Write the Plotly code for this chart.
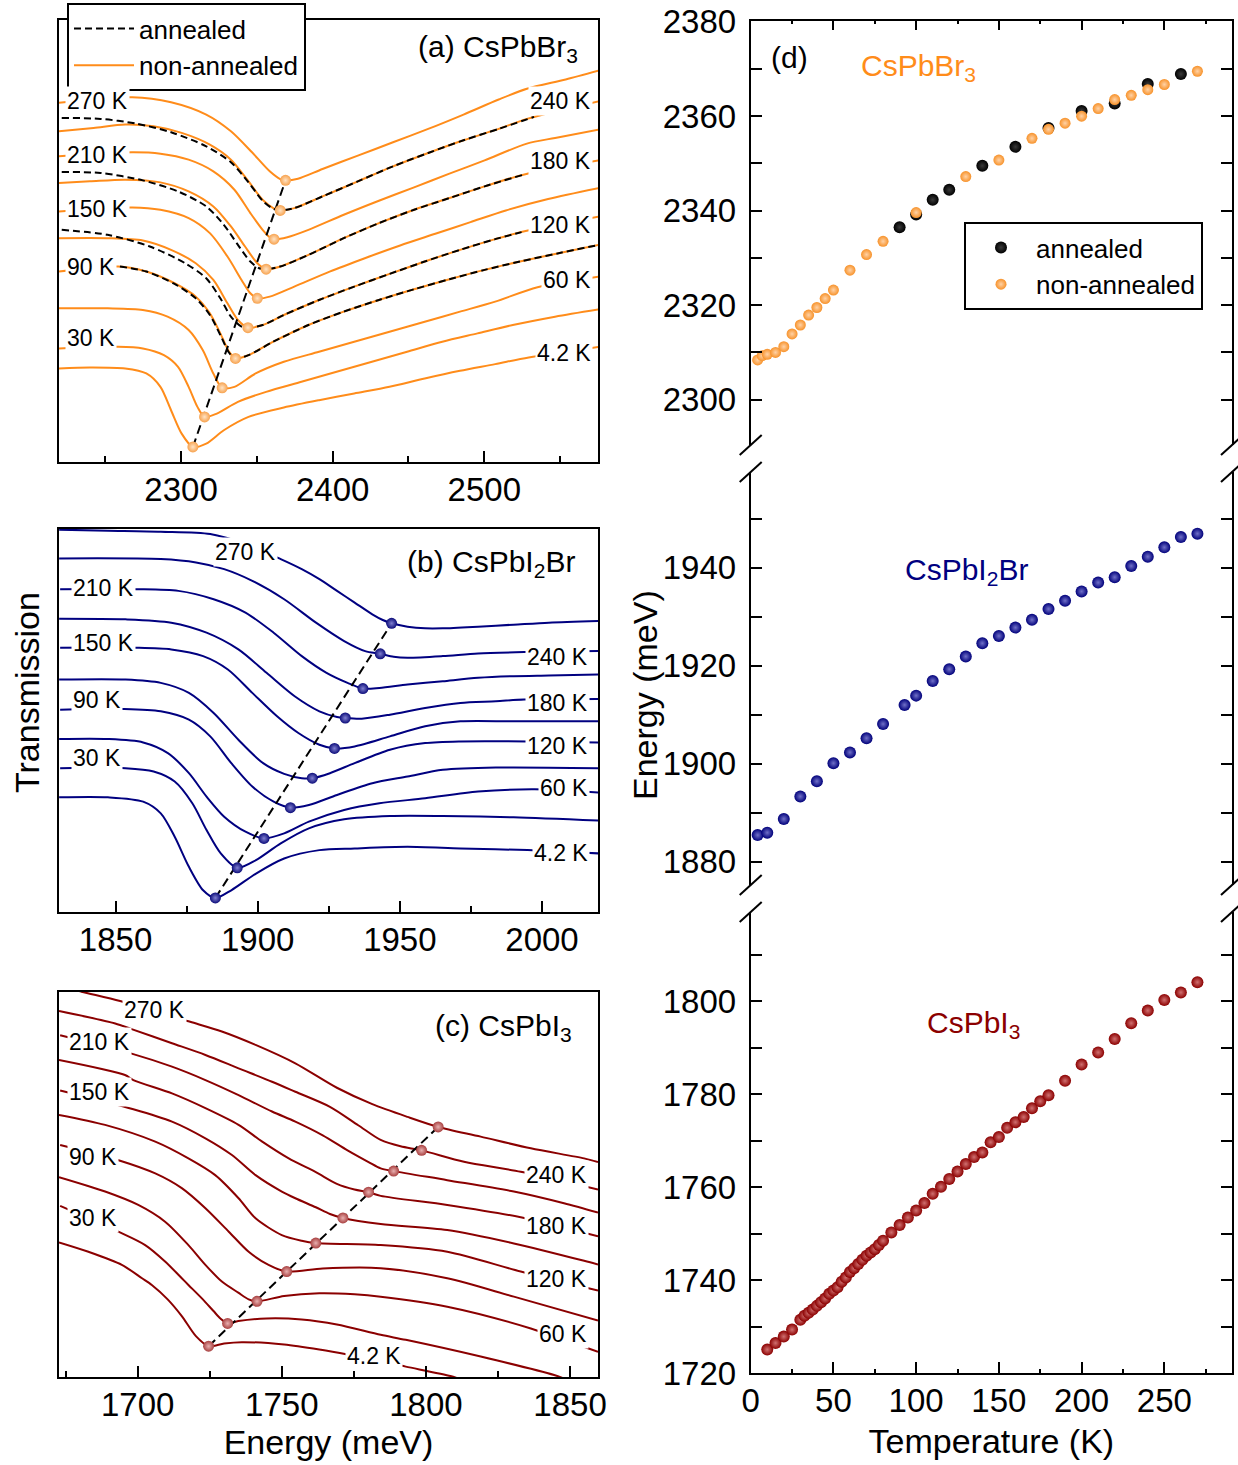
import plotly.graph_objects as go

FONT = "Liberation Sans, Arial, sans-serif"
W, H = 1238, 1465

# ---------------- Panel (a) CsPbBr3 : energy (meV) / transmission (arb. u., offset) ----------------
a_E_270 = [2219.5, 2267.8, 2293.4, 2316.6, 2332.9, 2346.8, 2358.5, 2365.4, 2368.9, 2377.1, 2393.3, 2416.6, 2439.8, 2463.0, 2486.3, 2509.5, 2528.1, 2553.7, 2575.8]
a_T_270 = [1075, 1092, 1077, 1040, 990, 927, 870, 847, 843, 848, 877, 917, 957, 997, 1040, 1085, 1117, 1145, 1172]
a_E_240 = [2219.5, 2242.3, 2263.2, 2281.8, 2300.4, 2319.0, 2332.9, 2344.5, 2353.8, 2360.8, 2365.4, 2374.7, 2393.3, 2416.6, 2439.8, 2463.0, 2486.3, 2509.5, 2528.1, 2575.8]
a_T_240 = [990, 1000, 1010, 1005, 985, 950, 905, 840, 785, 760, 753, 760, 795, 840, 885, 925, 963, 997, 1027, 1080]
a_E_210 = [2219.5, 2267.8, 2286.4, 2305.0, 2321.3, 2335.2, 2345.7, 2353.8, 2358.5, 2361.3, 2370.1, 2384.0, 2407.3, 2430.5, 2453.7, 2477.0, 2500.2, 2528.1, 2546.7, 2575.8]
a_T_210 = [915, 927, 923, 905, 870, 815, 745, 695, 673, 667, 673, 695, 740, 782, 822, 863, 903, 953, 970, 995]
a_E_180 = [2219.5, 2239.9, 2263.2, 2286.4, 2305.0, 2321.3, 2332.9, 2342.2, 2350.3, 2356.1, 2365.4, 2384.0, 2407.3, 2430.5, 2453.7, 2477.0, 2500.2, 2525.8, 2575.8]
a_T_180 = [835, 840, 845, 837, 810, 765, 705, 645, 595, 577, 585, 620, 670, 715, 755, 790, 825, 860, 903]
a_E_150 = [2219.5, 2267.8, 2286.4, 2305.0, 2319.0, 2330.6, 2339.9, 2345.7, 2350.3, 2358.5, 2374.7, 2398.0, 2421.2, 2444.5, 2467.7, 2490.9, 2514.2, 2542.1, 2575.8]
a_T_150 = [750, 762, 755, 730, 685, 615, 545, 505, 490, 495, 525, 570, 610, 648, 683, 718, 753, 787, 820]
a_E_120 = [2219.5, 2251.6, 2274.8, 2293.4, 2309.7, 2321.3, 2330.6, 2337.5, 2344.1, 2353.8, 2367.8, 2391.0, 2414.2, 2437.5, 2460.7, 2484.0, 2507.2, 2525.8, 2575.8]
a_T_120 = [670, 670, 663, 635, 595, 545, 475, 425, 402, 410, 440, 485, 525, 563, 600, 635, 667, 690, 735]
a_E_90 = [2219.5, 2258.5, 2277.1, 2295.7, 2309.7, 2319.0, 2325.9, 2331.7, 2335.9, 2344.5, 2360.8, 2384.0, 2407.3, 2430.5, 2453.7, 2477.0, 2500.2, 2523.5, 2549.0, 2575.8]
a_T_90 = [570, 585, 570, 535, 495, 445, 385, 330, 310, 320, 360, 410, 450, 485, 517, 547, 575, 600, 625, 650]
a_E_60 = [2219.5, 2251.6, 2274.8, 2291.1, 2305.0, 2314.3, 2321.3, 2327.1, 2335.2, 2349.2, 2367.8, 2391.0, 2414.2, 2437.5, 2460.7, 2484.0, 2507.2, 2535.1, 2575.8]
a_T_60 = [460, 460, 455, 435, 395, 335, 265, 222, 225, 265, 300, 330, 360, 390, 420, 450, 480, 523, 555]
a_E_30 = [2219.5, 2258.5, 2274.8, 2288.7, 2298.0, 2305.0, 2310.8, 2315.5, 2323.6, 2337.5, 2356.1, 2379.4, 2402.6, 2425.9, 2449.1, 2472.3, 2495.5, 2518.8, 2546.7, 2575.8]
a_T_30 = [340, 345, 340, 320, 285, 225, 165, 135, 145, 180, 210, 240, 270, 300, 330, 360, 385, 410, 435, 457]
a_E_4 = [2219.5, 2239.9, 2263.2, 2277.1, 2286.4, 2293.4, 2300.4, 2307.8, 2316.6, 2328.2, 2344.5, 2367.8, 2391.0, 2414.2, 2437.5, 2460.7, 2484.0, 2507.2, 2529.3, 2575.8]
a_T_4 = [280, 283, 280, 265, 225, 155, 85, 45, 55, 95, 135, 163, 185, 205, 225, 250, 273, 293, 313, 345]

# annealed spectra (dashed)
ann_E_240 = [2221.3, 2246.9, 2270.2, 2293.4, 2316.6, 2332.9, 2344.5, 2353.8, 2360.8, 2365.4, 2374.7, 2393.3, 2416.6, 2439.8, 2463.0, 2486.3, 2509.5, 2532.8]
ann_T_240 = [1030, 1027, 1013, 987, 945, 897, 837, 782, 758, 753, 760, 795, 840, 885, 925, 963, 997, 1033]
ann_E_180 = [2221.3, 2246.9, 2274.8, 2298.0, 2316.6, 2328.2, 2337.5, 2345.7, 2351.5, 2356.1, 2365.4, 2384.0, 2407.3, 2430.5, 2453.7, 2477.0, 2500.2, 2525.8]
ann_T_180 = [868, 865, 843, 810, 765, 710, 650, 600, 580, 577, 585, 620, 670, 715, 755, 790, 825, 860]
ann_E_120 = [2221.3, 2251.6, 2279.4, 2302.7, 2316.6, 2325.9, 2332.9, 2339.9, 2344.1, 2353.8, 2367.8, 2391.0, 2414.2, 2437.5, 2460.7, 2484.0, 2507.2, 2524.6]
ann_T_120 = [695, 680, 645, 595, 550, 490, 435, 405, 402, 410, 440, 485, 525, 563, 600, 635, 667, 688]
ann_E_90 = [2259.7, 2277.1, 2295.7, 2309.7, 2319.0, 2325.9, 2331.7, 2335.9, 2344.5, 2360.8, 2384.0, 2407.3, 2430.5, 2453.7, 2477.0, 2500.2, 2523.5, 2549.0, 2575.8]
ann_T_90 = [585, 570, 533, 490, 440, 380, 327, 310, 320, 360, 410, 450, 485, 517, 547, 575, 600, 625, 650]

a_dot_E = [2307.8, 2315.5, 2327.1, 2335.9, 2344.1, 2350.3, 2356.1, 2361.3, 2365.4, 2368.9]
a_dot_T = [45, 135, 222, 310, 402, 490, 577, 667, 753, 843]

# ---------------- Panel (b) CsPbI2Br ----------------
b_E_270 = [1830.15, 1847.3, 1865.9, 1883.3, 1895.7, 1908.1, 1915.5, 1921.7, 1927.9, 1934.1, 1940.3, 1944.0, 1947.1, 1952.7, 1958.9, 1965.1, 1977.5, 1990.0, 2002.4, 2020.3]
b_T_270 = [1143, 1140, 1137, 1130, 1100, 1055, 1025, 995, 960, 925, 890, 873, 863, 853, 848, 848, 853, 859, 865, 870]
b_E_240 = [1830.15, 1865.9, 1878.3, 1888.2, 1898.1, 1909.3, 1920.5, 1930.4, 1937.8, 1943.1, 1947.8, 1952.7, 1965.1, 1977.5, 1993.7, 2020.3]
b_T_240 = [1057, 1055, 1045, 1025, 990, 935, 865, 810, 780, 772, 763, 760, 765, 773, 777, 780]
b_E_210 = [1830.5, 1857.2, 1872.1, 1884.5, 1895.7, 1905.6, 1915.5, 1924.2, 1931.6, 1937.0, 1942.8, 1952.7, 1965.1, 1977.5, 1990.0, 2002.4, 2020.3]
b_T_210 = [965, 965, 960, 935, 895, 835, 765, 715, 685, 668, 670, 680, 690, 700, 705, 707, 710]
b_E_180 = [1830.15, 1853.5, 1869.6, 1882.0, 1893.2, 1903.1, 1913.0, 1921.7, 1927.9, 1930.8, 1936.6, 1946.5, 1958.9, 1971.3, 1983.8, 1993.7, 2020.3]
b_T_180 = [877, 875, 865, 835, 785, 715, 645, 600, 583, 580, 578, 590, 610, 625, 630, 635, 637]
b_E_150 = [1830.5, 1857.2, 1869.6, 1880.8, 1889.5, 1898.1, 1906.8, 1914.3, 1921.7, 1927.0, 1934.1, 1946.5, 1958.9, 1971.3, 1990.0, 2020.3]
b_T_150 = [790, 790, 785, 765, 725, 655, 585, 535, 500, 489, 495, 525, 555, 570, 570, 570]
b_E_120 = [1830.15, 1853.5, 1865.9, 1875.8, 1884.5, 1893.2, 1901.9, 1909.3, 1915.5, 1919.2, 1925.4, 1934.1, 1946.5, 1958.9, 1971.3, 1994.9, 2020.3]
b_T_120 = [695, 695, 685, 655, 595, 515, 445, 413, 400, 400, 415, 445, 485, 505, 510, 510, 507]
b_E_90 = [1830.5, 1852.9, 1865.9, 1875.8, 1883.3, 1890.7, 1898.1, 1905.6, 1911.5, 1918.0, 1927.9, 1940.3, 1952.7, 1965.1, 1983.8, 2020.3]
b_T_90 = [605, 607, 600, 575, 525, 445, 375, 330, 312, 320, 350, 385, 405, 425, 432, 430]
b_E_60 = [1830.15, 1847.3, 1859.7, 1868.4, 1875.8, 1882.0, 1888.2, 1895.7, 1902.2, 1909.3, 1918.0, 1930.4, 1942.8, 1958.9, 1977.5, 1997.4, 2020.3]
b_T_60 = [517, 517, 507, 475, 415, 345, 285, 240, 220, 235, 270, 305, 325, 340, 360, 367, 357]
b_E_30 = [1830.5, 1853.5, 1863.4, 1870.8, 1877.0, 1882.0, 1887.0, 1892.8, 1899.4, 1908.1, 1918.0, 1930.4, 1946.5, 1965.1, 1990.0, 2020.3]
b_T_30 = [430, 430, 420, 390, 325, 245, 175, 132, 155, 205, 250, 277, 287, 287, 283, 273]
b_E_4 = [1830.15, 1847.3, 1859.7, 1865.9, 1870.8, 1875.8, 1880.8, 1885.1, 1890.7, 1899.4, 1909.3, 1921.7, 1934.1, 1952.7, 1971.3, 1994.9, 2020.3]
b_T_4 = [343, 343, 330, 295, 225, 135, 65, 42, 65, 115, 160, 185, 190, 195, 190, 185, 175]

b_dot_E = [1885.1, 1892.8, 1902.2, 1911.5, 1919.2, 1927.0, 1930.8, 1937.0, 1943.1, 1947.1]
b_dot_T = [42, 132, 220, 312, 400, 489, 580, 668, 772, 863]

# ---------------- Panel (c) CsPbI3 ----------------
c_E_270 = [1672.7, 1680.5, 1693.9, 1718.2, 1729.2, 1740.9, 1754.7, 1769.1, 1781.4, 1793.6, 1804.25, 1819.0, 1836.4, 1854.9, 1859.7]
c_T_270 = [1169, 1151, 1123, 1061, 1032, 992, 937, 864, 815, 777, 747, 718, 683, 653, 642]
c_E_240 = [1672.7, 1692.2, 1697.9, 1711.9, 1723.5, 1735.0, 1746.6, 1754.7, 1766.7, 1776.5, 1784.3, 1791.2, 1798.5, 1813.2, 1832.9, 1859.7]
c_T_240 = [1093, 1056, 1039, 997, 962, 922, 882, 852, 807, 752, 708, 689, 677, 643, 613, 560]
c_E_210 = [1673.1, 1697.9, 1711.9, 1723.5, 1735.0, 1746.6, 1754.7, 1764.2, 1772.8, 1780.1, 1784.3, 1788.8, 1807.4, 1830.5, 1847.9, 1859.7]
c_T_210 = [1021, 966, 927, 887, 842, 793, 763, 722, 677, 642, 623, 615, 588, 554, 519, 491]
c_E_180 = [1672.7, 1695.6, 1698.5, 1711.9, 1723.5, 1735.0, 1743.2, 1752.4, 1761.8, 1769.1, 1775.2, 1780.1, 1784.3, 1807.4, 1832.9, 1859.7]
c_T_180 = [947, 902, 887, 847, 803, 753, 703, 653, 612, 577, 560, 552, 541, 514, 477, 420]
c_E_150 = [1673.1, 1698.5, 1711.9, 1723.5, 1732.7, 1740.9, 1750.0, 1754.7, 1761.8, 1766.7, 1771.2, 1784.3, 1807.4, 1830.5, 1854.9, 1859.7]
c_T_150 = [856, 800, 763, 713, 663, 603, 554, 534, 507, 487, 475, 457, 439, 399, 347, 336]
c_E_120 = [1672.7, 1688.7, 1706.1, 1717.6, 1726.9, 1735.0, 1740.9, 1750.0, 1756.9, 1761.8, 1784.3, 1807.4, 1832.9, 1859.7]
c_T_120 = [783, 753, 703, 653, 603, 534, 474, 424, 407, 400, 394, 374, 315, 258]
c_E_90 = [1673.1, 1693.9, 1706.1, 1715.3, 1723.5, 1731.6, 1738.5, 1745.4, 1751.7, 1764.2, 1784.3, 1807.4, 1830.5, 1859.7]
c_T_90 = [693, 646, 608, 564, 504, 434, 374, 335, 315, 324, 325, 295, 240, 169]
c_E_60 = [1672.7, 1688.7, 1700.2, 1709.5, 1717.6, 1723.5, 1729.2, 1734.9, 1738.5, 1741.4, 1750.8, 1763.0, 1775.2, 1784.3, 1807.4, 1836.4, 1859.7]
c_T_60 = [597, 554, 514, 464, 394, 335, 285, 252, 232, 226, 242, 250, 247, 240, 210, 145, 75]
c_E_30 = [1673.1, 1693.3, 1702.6, 1709.5, 1715.3, 1717.6, 1722.6, 1726.3, 1728.8, 1731.2, 1734.9, 1744.7, 1756.9, 1769.1, 1784.3, 1793.0, 1819.0, 1844.5, 1847.4]
c_T_30 = [511, 434, 394, 345, 295, 275, 232, 197, 174, 160, 167, 175, 172, 157, 126, 111, 61, 6, -3]
c_E_4 = [1672.7, 1682.9, 1694.5, 1701.5, 1704.9, 1710.4, 1715.3, 1720.2, 1724.6, 1730.0, 1736.1, 1750.8, 1763.0, 1772.8, 1793.0, 1808.5, 1810.7]
c_T_4 = [402, 374, 335, 295, 275, 232, 182, 122, 92, 100, 104, 97, 82, 67, 31, 3, -3]

c_dot_E = [1724.6, 1731.2, 1741.4, 1751.7, 1761.8, 1771.2, 1780.1, 1788.8, 1798.5, 1804.25]
c_dot_T = [92, 160, 226, 315, 400, 475, 552, 615, 677, 747]

# ---------------- Panel (d) exciton energy vs temperature ----------------
d_T_br_non = [4.2, 7, 10, 15, 20, 25, 30, 35, 40, 45, 50, 60, 70, 80, 100, 130, 150, 170, 180, 190, 200, 210, 220, 230, 240, 250, 270]
d_E_br_non = [2308.4, 2309.3, 2309.6, 2310.0, 2311.2, 2313.9, 2315.8, 2317.9, 2319.5, 2321.4, 2323.2, 2327.4, 2330.7, 2333.5, 2339.6, 2347.2, 2350.7, 2355.3, 2357.2, 2358.5, 2360.0, 2361.6, 2363.5, 2364.4, 2365.6, 2366.7, 2369.5]
d_T_br_ann = [90, 100, 110, 120, 140, 160, 180, 200, 220, 240, 260]
d_E_br_ann = [2336.5, 2339.2, 2342.3, 2344.4, 2349.5, 2353.5, 2357.5, 2361.1, 2362.7, 2366.8, 2368.9]
d_T_i2br = [4.2, 10, 20, 30, 40, 50, 60, 70, 80, 93, 100, 110, 120, 130, 140, 150, 160, 170, 180, 190, 200, 210, 220, 230, 240, 250, 260, 270]
d_E_i2br = [1885.4, 1885.9, 1888.7, 1893.3, 1896.4, 1900.1, 1902.3, 1905.2, 1908.1, 1912.0, 1913.9, 1916.9, 1919.3, 1921.9, 1924.6, 1926.1, 1927.8, 1929.4, 1931.6, 1933.3, 1935.2, 1937.0, 1938.1, 1940.4, 1942.3, 1944.2, 1946.3, 1947.0]
d_T_i3 = [10, 15, 20, 25, 30, 32.5, 35, 37.5, 40, 42.5, 45, 47.5, 50, 52.5, 55, 57.5, 60, 62.5, 65, 67.5, 70, 72.5, 75, 77.5, 80,
          85, 90, 95, 100, 105, 110, 115, 120, 125, 130, 135, 140, 145, 150, 155, 160, 165, 170, 175, 180,
          190, 200, 210, 220, 230, 240, 250, 260, 270]
d_E_i3 = [1725.1, 1726.5, 1727.9, 1729.4, 1731.5, 1732.4, 1733.0, 1733.7, 1734.5, 1735.3, 1736.1, 1737.1, 1737.8, 1738.5, 1739.7, 1740.6, 1741.8, 1742.6, 1743.5, 1744.4, 1745.3, 1746.0, 1746.7, 1747.6, 1748.5,
          1750.3, 1751.9, 1753.5, 1755.0, 1756.6, 1758.6, 1760.1, 1761.8, 1763.4, 1765.0, 1766.5, 1767.5, 1769.7, 1770.8, 1772.8, 1774.0, 1775.1, 1777.0, 1778.5, 1779.8,
          1782.9, 1786.4, 1789.0, 1791.9, 1795.3, 1798.0, 1800.3, 1801.9, 1804.1]

ORANGE = "#FF8C1A"
NAVY = "#000080"
DARKRED = "#8B0000"

fig = go.Figure()


def curves(pairs, color, xa, ya, dash=None, name=None, legend=None, rank=None):
    for i, (ex, tx) in enumerate(pairs):
        fig.add_trace(go.Scatter(
            x=ex, y=tx, mode="lines", xaxis=xa, yaxis=ya,
            line=dict(color=color, width=2, shape="spline", smoothing=0.8, dash=dash),
            name=name, showlegend=(name is not None and i == 0),
            legend=legend or "legend", legendrank=rank or 1000, hoverinfo="skip"))


def guide(ex, tx, xa, ya):
    fig.add_trace(go.Scatter(x=[ex[0], ex[-1]], y=[tx[0], tx[-1]], mode="lines", xaxis=xa, yaxis=ya,
                             line=dict(color="black", width=2, dash="9px,5px"), showlegend=False, hoverinfo="skip"))


def dots(ex, tx, xa, ya, color, glow, size=11, name=None, legend=None, rank=None):
    fig.add_trace(go.Scatter(x=ex, y=tx, mode="markers", xaxis=xa, yaxis=ya,
                             marker=dict(size=size, color=color, gradient=dict(type="radial", color=glow), line=dict(width=0)),
                             name=name, showlegend=name is not None, legend=legend or "legend",
                             legendrank=rank or 1000, hoverinfo="skip"))


# panel a
curves([(a_E_4, a_T_4), (a_E_30, a_T_30), (a_E_60, a_T_60), (a_E_90, a_T_90), (a_E_120, a_T_120),
        (a_E_150, a_T_150), (a_E_180, a_T_180), (a_E_210, a_T_210), (a_E_240, a_T_240), (a_E_270, a_T_270)],
       ORANGE, "x", "y", name="non-annealed", legend="legend2", rank=2)
curves([(ann_E_240, ann_T_240), (ann_E_180, ann_T_180), (ann_E_120, ann_T_120), (ann_E_90, ann_T_90)],
       "black", "x", "y", dash="7px,4px", name="annealed", legend="legend2", rank=1)
guide(a_dot_E, a_dot_T, "x", "y")
dots(a_dot_E, a_dot_T, "x", "y", "#F7A24E", "#FFE3C4")

# panel b
curves([(b_E_4, b_T_4), (b_E_30, b_T_30), (b_E_60, b_T_60), (b_E_90, b_T_90), (b_E_120, b_T_120),
        (b_E_150, b_T_150), (b_E_180, b_T_180), (b_E_210, b_T_210), (b_E_240, b_T_240), (b_E_270, b_T_270)],
       NAVY, "x2", "y2")
guide(b_dot_E, b_dot_T, "x2", "y2")
dots(b_dot_E, b_dot_T, "x2", "y2", "#0C0C7A", "#8080D0")

# panel c
curves([(c_E_4, c_T_4), (c_E_30, c_T_30), (c_E_60, c_T_60), (c_E_90, c_T_90), (c_E_120, c_T_120),
        (c_E_150, c_T_150), (c_E_180, c_T_180), (c_E_210, c_T_210), (c_E_240, c_T_240), (c_E_270, c_T_270)],
       DARKRED, "x3", "y3")
guide(c_dot_E, c_dot_T, "x3", "y3")
dots(c_dot_E, c_dot_T, "x3", "y3", "#A84040", "#E8B0B0")

# panel d
dots(d_T_br_ann, d_E_br_ann, "x5", "y4", "#000000", "#3A3A3A", size=12, name="annealed", rank=1)
dots(d_T_br_non, d_E_br_non, "x5", "y4", "#F7922A", "#FFD2A6", size=11, name="non-annealed", rank=2)
dots(d_T_i2br, d_E_i2br, "x6", "y5", "#00007A", "#7070C8", size=12)
dots(d_T_i3, d_E_i3, "x4", "y6", "#8B0000", "#D07070", size=12)


def px_x(p):
    return p / W


def px_y(p):
    return 1 - p / H


TICKFONT = dict(family=FONT, size=33, color="black")
box_x = dict(showline=True, linewidth=2, linecolor="black", mirror=True, ticks="inside", ticklen=11,
             tickwidth=2, tickcolor="black", showgrid=False, zeroline=False, tickfont=TICKFONT,
             ticklabelstandoff=-3, automargin=False)
box_y = dict(showline=True, linewidth=2, linecolor="black", mirror=True, ticks="", showticklabels=False,
             showgrid=False, zeroline=False, automargin=False)
minor_ab = dict(ticklen=6, tickwidth=2, tickcolor="black", ticks="inside", showgrid=False)

left_dom = [px_x(59), px_x(598)]
d_dom = [px_x(750.7), px_x(1232)]

layout = dict(
    template="none",
    width=W, height=H, margin=dict(l=0, r=0, t=0, b=0, pad=0), paper_bgcolor="white", plot_bgcolor="white",
    font=dict(family=FONT, color="black"),
    xaxis=dict(box_x, domain=left_dom, anchor="y", range=[2219.5, 2575], dtick=100, tick0=2300,
               minor=dict(minor_ab, dtick=50, tick0=2250)),
    yaxis=dict(box_y, domain=[px_y(462), px_y(20)], anchor="x", range=[0, 1323]),
    xaxis2=dict(box_x, domain=left_dom, anchor="y2", range=[1830.1, 2019.7], dtick=50, tick0=1850,
                minor=dict(minor_ab, dtick=25, tick0=1825)),
    yaxis2=dict(box_y, domain=[px_y(912), px_y(529)], anchor="x2", range=[0, 1145]),
    xaxis3=dict(box_x, domain=left_dom, anchor="y3", range=[1672.7, 1859.7], dtick=50, tick0=1700,
                minor=dict(minor_ab, dtick=25, tick0=1675),
                title=dict(text="Energy (meV)", font=dict(family=FONT, size=34, color="black"), standoff=8)),
    yaxis3=dict(box_y, domain=[px_y(1377), px_y(992)], anchor="x3", range=[0, 1150]),
    # panel d: bottom (CsPbI3)
    xaxis4=dict(domain=d_dom, anchor="y6", range=[0, 290.9], dtick=50, tick0=0, showline=True, linewidth=2,
                linecolor="black", ticks="inside", ticklen=11, tickwidth=2, tickcolor="black",
                minor=dict(dtick=25, ticklen=4, tickwidth=2, tickcolor="black", ticks="inside", showgrid=False),
                showgrid=False, zeroline=False, tickfont=TICKFONT, ticklabelstandoff=-3, automargin=False,
                title=dict(text="Temperature (K)", font=dict(family=FONT, size=34, color="black"), standoff=11)),
    # panel d: top (CsPbBr3)
    xaxis5=dict(domain=d_dom, anchor="y4", side="top", range=[0, 290.9], dtick=50, tick0=0, showline=True,
                linewidth=2, linecolor="black", ticks="inside", ticklen=9, tickwidth=2, tickcolor="black",
                minor=dict(dtick=25, ticklen=3, tickwidth=2, tickcolor="black", ticks="inside", showgrid=False),
                showticklabels=False, showgrid=False, zeroline=False, automargin=False),
    # panel d: middle (CsPbI2Br)
    xaxis6=dict(domain=d_dom, anchor="y5", range=[0, 290.9], showline=False, ticks="", showticklabels=False,
                showgrid=False, zeroline=False, automargin=False),
)
for key, dom, rng, t0, anc in [("yaxis4", [px_y(445), px_y(20.7)], [2290.4, 2380.2], 2300, "x5"),
                               ("yaxis5", [px_y(885), px_y(472)], [1875.2, 1959.6], 1880, "x6"),
                               ("yaxis6", [px_y(1373.3), px_y(912)], [1720, 1819.2], 1720, "x4")]:
    layout[key] = dict(domain=dom, anchor=anc, range=rng, dtick=20, tick0=t0, showline=True, linewidth=2,
                       linecolor="black", mirror="ticks", ticks="inside", ticklen=11, tickwidth=2,
                       tickcolor="black", minor=dict(dtick=10, ticklen=11, tickwidth=2, tickcolor="black",
                                                     ticks="inside", showgrid=False),
                       showgrid=False, zeroline=False, tickfont=TICKFONT, ticklabelstandoff=6, automargin=False)

layout["legend"] = dict(x=px_x(964), y=px_y(222), xanchor="left", yanchor="top", bgcolor="white",
                        bordercolor="black", borderwidth=2, font=dict(family=FONT, size=26, color="black"),
                        itemwidth=60, tracegroupgap=0)
layout["legend2"] = dict(x=px_x(67), y=px_y(3), xanchor="left", yanchor="top", bgcolor="white",
                         bordercolor="black", borderwidth=2, font=dict(family=FONT, size=26, color="black"),
                         itemwidth=60, tracegroupgap=0)
fig.update_layout(layout)

ann = []


def lab(text, x, y, xa, ya, anchor):
    ann.append(dict(text=text, x=x, y=y, xref=xa, yref=ya, xanchor=anchor, yanchor="middle", showarrow=False,
                    font=dict(family=FONT, size=23, color="black"), bgcolor="white", borderpad=1))


for t, y in [("270 K", 1080), ("210 K", 920), ("150 K", 757), ("90 K", 585), ("30 K", 370)]:
    lab(t, 2223.7, y, "x", "y", "left")
for t, y in [("240 K", 1080), ("180 K", 900), ("120 K", 710), ("60 K", 545), ("4.2 K", 325)]:
    lab(t, 2571.5, y, "x", "y", "right")
lab("270 K", 1895.7, 1075, "x2", "y2", "center")
for t, y in [("210 K", 970), ("150 K", 805), ("90 K", 635), ("30 K", 460)]:
    lab(t, 1834.2, y, "x2", "y2", "left")
for t, y in [("240 K", 763), ("180 K", 625), ("120 K", 497), ("60 K", 372), ("4.2 K", 175)]:
    lab(t, 2017.0, y, "x2", "y2", "right")
lab("270 K", 1705.8, 1097, "x3", "y3", "center")
for t, y in [("210 K", 1002), ("150 K", 850), ("90 K", 657), ("30 K", 475)]:
    lab(t, 1675.5, y, "x3", "y3", "left")
for t, y in [("240 K", 602), ("180 K", 452), ("120 K", 292), ("60 K", 127)]:
    lab(t, 1856.6, y, "x3", "y3", "right")
lab("4.2 K", 1782.0, 62, "x3", "y3", "center")


def ptext(text, xp, yp, anchor, size=30, color="black", angle=0):
    ann.append(dict(text=text, x=px_x(xp), y=px_y(yp), xref="paper", yref="paper", xanchor=anchor,
                    yanchor="middle", showarrow=False, textangle=angle,
                    font=dict(family=FONT, size=size, color=color)))


ptext("(a) CsPbBr<sub>3</sub>", 580, 48, "right")
ptext("(b) CsPbI<sub>2</sub>Br", 577, 563, "right")
ptext("(c) CsPbI<sub>3</sub>", 574, 1027, "right")
ptext("(d)", 789, 57, "center")
ptext("CsPbBr<sub>3</sub>", 859, 67, "left", color=ORANGE)
ptext("CsPbI<sub>2</sub>Br", 903, 571, "left", color=NAVY)
ptext("CsPbI<sub>3</sub>", 925, 1024, "left", color=DARKRED)
ptext("Transmission", 27, 693, "center", size=34, angle=-90)
ptext("Energy (meV)", 645, 695, "center", size=34, angle=-90)

shapes = []
for xp in (750.7, 1232):
    for yp in (445, 472, 885, 912):
        shapes.append(dict(type="line", xref="paper", yref="paper", x0=px_x(xp - 11), y0=px_y(yp + 10),
                           x1=px_x(xp + 11), y1=px_y(yp - 10), line=dict(color="black", width=2)))

fig.update_layout(annotations=ann, shapes=shapes)

fig.write_html("out.html", config={"displayModeBar": False},
               post_script="document.body.style.margin='0';document.body.style.overflow='hidden';")
